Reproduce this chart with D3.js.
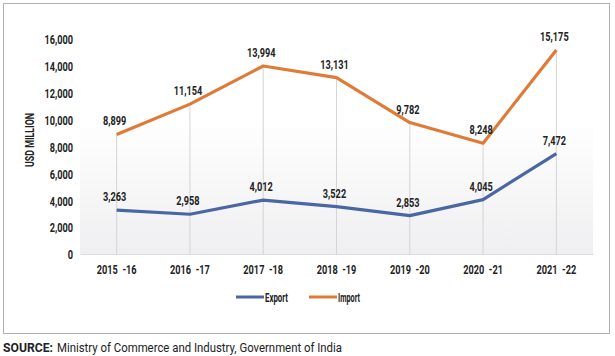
<!DOCTYPE html>
<html><head><meta charset="utf-8">
<script src="https://cdn.jsdelivr.net/npm/d3@7"></script>
<style>
body{margin:0;background:#fff;}
svg{display:block;}
text{font-family:Roboto,"Liberation Sans",sans-serif;}
</style></head><body>
<svg id="c" width="615" height="356"></svg>
<script>
const categories = ["2015 -16","2016 -17","2017 -18","2018 -19","2019 -20","2020 -21","2021 -22"];
const exportValues = [3263,2958,4012,3522,2853,4045,7472];
const importValues = [8899,11154,13994,13131,9782,8248,15175];
const yTicks = [0,2000,4000,6000,8000,10000,12000,14000,16000];
const seriesNames = ["Export","Import"];
const colors = {Export:"#4b67a3", Import:"#df7b36"};

const svg = d3.select("#c");
const L=80,R=593,T=39,B=254;
const SX = 0.68;
const FS = 13.5;

svg.append("rect").attr("x",3.5).attr("y",3.5).attr("width",606).attr("height",330)
  .attr("fill","#fff").attr("stroke","#b0b0b0").attr("stroke-width",1);

const defs = svg.append("defs");
const g = defs.append("linearGradient").attr("id","bg").attr("x1",0).attr("y1",0).attr("x2",0).attr("y2",1);
g.append("stop").attr("offset","0%").attr("stop-color","#ffffff");
g.append("stop").attr("offset","100%").attr("stop-color","#efeff1");

const x = d3.scaleBand().domain(categories).range([L,R]);
const y = d3.scaleLinear().domain([0,16000]).range([B,T]);

svg.append("rect").attr("x",L).attr("y",y(10000)).attr("width",R-L).attr("height",B-y(10000)).attr("fill","url(#bg)");

const cx = d => x(d)+x.bandwidth()/2;

svg.append("g").selectAll("line").data(categories).join("line")
  .attr("x1",d=>cx(d)).attr("x2",d=>cx(d))
  .attr("y1",(d,i)=>y(importValues[i])).attr("y2",B)
  .attr("stroke","#d4d4d4").attr("stroke-width",1);

const ya = svg.append("g").attr("transform",`translate(${L-7},0)`)
  .call(d3.axisLeft(y).tickValues(yTicks).tickFormat(d3.format(",")).tickSize(0).tickPadding(0));
ya.select(".domain").remove();
ya.selectAll("text").attr("font-size",FS).attr("font-weight","bold").attr("fill","#222")
  .attr("dy","0.36em").attr("transform",`scale(${SX},1)`);

const xa = svg.append("g").attr("transform",`translate(0,${B})`)
  .call(d3.axisBottom(x).tickSize(0).tickPadding(10));
xa.select(".domain").attr("stroke","#dcdcdc");
xa.selectAll("text").attr("font-size",FS).attr("font-weight","bold").attr("fill","#222")
  .attr("transform",`scale(${SX},1)`).style("white-space","pre")
  .text(d=>d.replace(" -","  -"));

svg.append("text").attr("transform",`translate(34,140) rotate(-90)`)
  .attr("text-anchor","middle").attr("font-size",12.5).attr("font-weight","bold").attr("fill","#222")
  .attr("textLength",54).attr("lengthAdjust","spacingAndGlyphs")
  .text("USD MILLION");

const line = d3.line().x((d,i)=>cx(categories[i])).y(d=>y(d));
const series = [{name:"Export",values:exportValues},{name:"Import",values:importValues}];
series.forEach(s=>{
  svg.append("path").attr("d",line(s.values)).attr("fill","none")
    .attr("stroke",colors[s.name]).attr("stroke-width",3.2).attr("stroke-linejoin","round");
  svg.append("g").selectAll("text").data(s.values).join("text")
    .attr("transform",(d,i)=>`translate(${cx(categories[i])-2},${y(d)-9}) scale(${SX},1)`)
    .attr("text-anchor","middle").attr("font-size",FS).attr("font-weight","bold").attr("fill","#222")
    .text(d=>d3.format(",")(d));
});

const leg = [{name:"Export",x:236},{name:"Import",x:309}];
leg.forEach(l=>{
  svg.append("line").attr("x1",l.x).attr("x2",l.x+28).attr("y1",297).attr("y2",297)
    .attr("stroke",colors[l.name]).attr("stroke-width",3);
  svg.append("text").attr("x",l.x+29).attr("y",301.5).attr("font-size",12.5).attr("font-weight","bold")
    .attr("fill","#222").attr("textLength",l.name==="Export"?23:22).attr("lengthAdjust","spacingAndGlyphs")
    .text(l.name);
});

svg.append("text").attr("x",3).attr("y",352).attr("font-size",13.5).attr("fill","#222")
  .attr("font-family","'Liberation Sans',Arial,sans-serif").attr("font-weight","bold")
  .attr("textLength",50).attr("lengthAdjust","spacingAndGlyphs").text("SOURCE:");
svg.append("text").attr("x",57).attr("y",352).attr("font-size",13.5).attr("fill","#222")
  .attr("font-family","'Liberation Sans',Arial,sans-serif")
  .attr("textLength",285).attr("lengthAdjust","spacingAndGlyphs")
  .text("Ministry of Commerce and Industry, Government of India");
</script></body></html>
